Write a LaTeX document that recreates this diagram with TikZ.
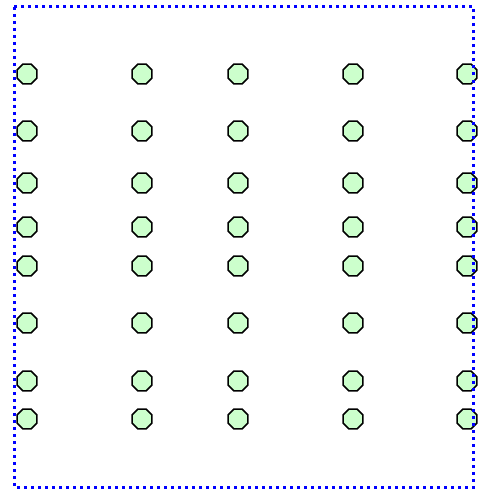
\documentclass[tikz,border=0pt]{standalone}
\usetikzlibrary{shapes.geometric}

\begin{document}
\begin{tikzpicture}[
  x=1pt,y=-1pt,
  cell/.style={regular polygon,regular polygon sides=8,draw=black,fill=green!20,
               line width=1.5pt,minimum size=21.5pt,inner sep=0pt},
  frame/.style={draw=blue,line width=3pt,dash pattern=on 3pt off 4pt}
]
\useasboundingbox (0,0) rectangle (477,489);
% grid of cells
\foreach \cx [count=\i] in {27,142,238,353,467}{
  \foreach \cy [count=\j] in {74,131,183,227,266,323,381,419}{
    \node[cell] (c\i-\j) at (\cx,\cy) {};
  }
}
% outer dotted frame
\coordinate (tl) at (14,7);
\coordinate (br) at (473.5,487);
\draw[frame] (tl) rectangle (br);
\end{tikzpicture}
\end{document}
